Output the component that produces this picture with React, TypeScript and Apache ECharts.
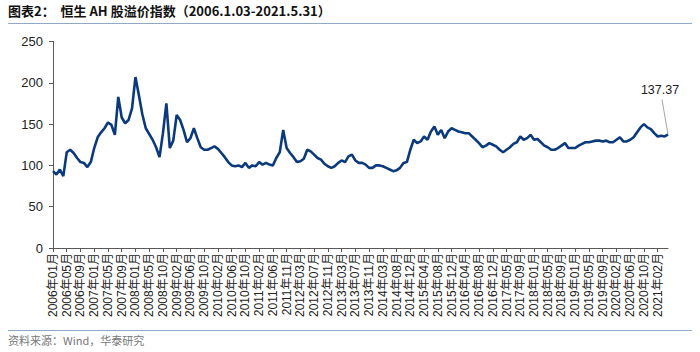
import React, { useEffect, useRef } from "react";
import * as echarts from "echarts";

const tickLabels = [
  "2006年01月","2006年05月","2006年09月","2007年01月","2007年05月","2007年09月","2008年01月","2008年05月","2008年10月",
  "2009年02月","2009年06月","2009年10月","2010年02月","2010年06月","2010年10月","2011年02月","2011年06月","2011年11月",
  "2012年03月","2012年07月","2012年11月","2013年03月","2013年07月","2013年11月","2014年03月","2014年08月","2014年12月",
  "2015年04月","2015年08月","2015年12月","2016年04月","2016年08月","2016年12月","2017年05月","2017年09月","2018年01月",
  "2018年05月","2018年09月","2019年01月","2019年05月","2019年09月","2020年02月","2020年06月","2020年10月","2021年02月",
];

// Premium index sampled roughly monthly (4 samples per label interval)
const premiumValues = [
  93, 89, 95, 87, 116, 119, 115, 109, 104, 103, 98, 104,
  121, 134, 140, 145, 152, 149, 137, 183, 158, 151, 155, 169,
  207, 185, 162, 145, 138, 131, 122, 110, 139, 175, 121, 130,
  161, 155, 143, 128, 133, 145, 133, 122, 119, 119, 121, 123,
  120, 115, 110, 104, 100, 99, 100, 98, 103, 97, 100, 99,
  104, 101, 103, 101, 100, 109, 116, 143, 121, 115, 110, 104,
  105, 108, 119, 117, 113, 109, 107, 102, 99, 97, 99, 103,
  106, 104, 111, 113, 106, 103, 103, 101, 97, 97, 100, 100,
  99, 97, 95, 93, 94, 97, 103, 104, 119, 131, 127, 129,
  135, 131, 141, 147, 137, 143, 133, 141, 145, 143, 141, 140,
  139, 139, 135, 131, 127, 122, 124, 127, 125, 123, 119, 116,
  119, 122, 126, 128, 135, 131, 133, 137, 131, 132, 128, 124,
  122, 119, 119, 121, 124, 127, 121, 121, 121, 124, 126, 128,
  128, 129, 130, 130, 129, 130, 128, 128, 131, 134, 129, 129,
  131, 134, 140, 146, 150, 146, 144, 139, 135, 136, 135, 137.37,
];

const lastLabel = "137.37";
const titleText = "图表2：  恒生 AH 股溢价指数（2006.1.03-2021.5.31）";
const sourceText = "资料来源：Wind，华泰研究";

export default function App() {
  const ref = useRef<HTMLDivElement>(null);
  useEffect(() => {
    if (!ref.current) return;
    const chart = echarts.init(ref.current, null, { renderer: "svg" });
    const categories: string[] = [];
    tickLabels.forEach((t) => {
      categories.push(t);
      for (let j = 1; j < 4; j++) categories.push(t + "#" + j);
    });
    const cats = categories.slice(0, premiumValues.length);
    const font = "Liberation Sans, Arial, Noto Sans CJK SC, sans-serif";
    const baseGraphics: any[] = [
      {
        id: "title",
        type: "text",
        left: 8,
        top: 4,
        style: {
          text: titleText,
          fontSize: 13,
          fontWeight: "bold",
          fill: "#111",
          fontFamily: "Noto Sans CJK SC, sans-serif",
        },
      },
      {
        id: "topRule",
        type: "line",
        shape: { x1: 8, y1: 23.5, x2: 692, y2: 23.5 },
        style: { stroke: "#8fa9c9", lineWidth: 1 },
      },
      {
        id: "bottomRule",
        type: "line",
        shape: { x1: 8, y1: 330.5, x2: 692, y2: 330.5 },
        style: { stroke: "#8fa9c9", lineWidth: 1 },
      },
      {
        id: "source",
        type: "text",
        left: 8,
        top: 334,
        style: {
          text: sourceText,
          fontSize: 11,
          fill: "#777",
          fontFamily: "Noto Sans CJK SC, sans-serif",
        },
      },
    ];
    chart.setOption({
      animation: false,
      grid: { left: 53, right: 32, top: 41.5, bottom: 104, containLabel: false },
      xAxis: {
        type: "category",
        data: cats,
        boundaryGap: false,
        axisLine: { lineStyle: { color: "#595959", width: 1 } },
        axisTick: { show: true, interval: 3, length: 4, lineStyle: { color: "#595959" } },
        axisLabel: {
          interval: 3,
          rotate: 90,
          margin: 5,
          fontSize: 12,
          color: "#222",
          fontFamily: font,
          formatter: (v: string) => v.split("#")[0],
        },
        splitLine: { show: false },
      },
      yAxis: {
        type: "value",
        min: 0,
        max: 250,
        interval: 50,
        axisLine: { show: true, lineStyle: { color: "#595959", width: 1 } },
        axisTick: { show: true, length: 4, lineStyle: { color: "#595959" } },
        axisLabel: { margin: 10, fontSize: 13, color: "#222", fontFamily: font },
        splitLine: { show: false },
      },
      series: [
        {
          type: "line",
          data: premiumValues,
          symbol: "none",
          lineStyle: { color: "#0b3a7c", width: 2.6 },
        },
      ],
      graphic: baseGraphics,
    });
    const lastIdx = premiumValues.length - 1;
    const p = chart.convertToPixel({ seriesIndex: 0 }, [lastIdx, premiumValues[lastIdx]]) as number[];
    if (p) {
      const ex = p[0] - 6;
      const ey = p[1] - 35;
      chart.setOption({
        graphic: baseGraphics.concat([
          {
            id: "annLine",
            type: "line",
            shape: { x1: p[0], y1: p[1], x2: ex, y2: ey },
            style: { stroke: "#a6a6a6", lineWidth: 1 },
          },
          {
            id: "annText",
            type: "text",
            x: ex - 2,
            y: ey - 3,
            style: {
              text: lastLabel,
              fontSize: 12.5,
              fill: "#222",
              fontFamily: font,
              align: "center",
              verticalAlign: "bottom",
            },
          },
        ]),
      });
    }
    return () => chart.dispose();
  }, []);
  return (
    <div
      ref={ref}
      style={{ position: "fixed", left: 0, top: 0, width: 700, height: 352, background: "#fff" }}
    />
  );
}
